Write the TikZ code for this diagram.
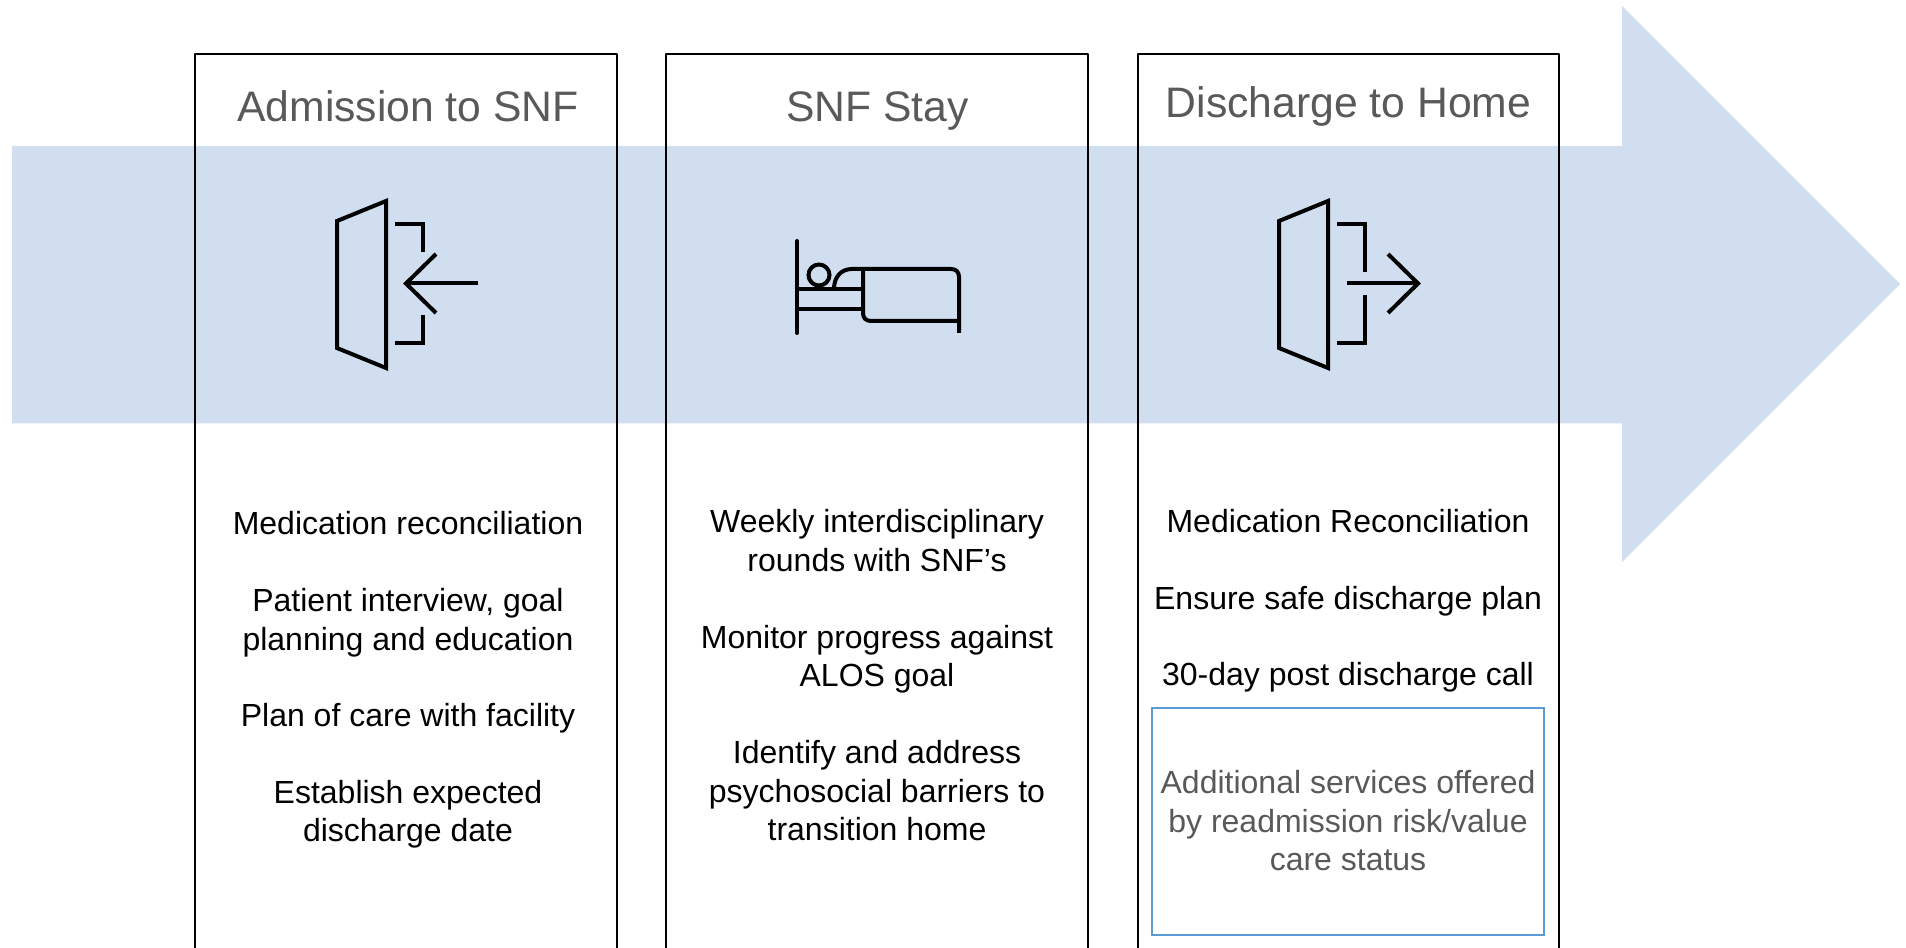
\documentclass[tikz,border=0pt]{standalone}
\usepackage{fontspec}
\setmainfont{Liberation Sans}
\definecolor{band}{HTML}{D0DEEF}
\definecolor{graytext}{HTML}{595959}
\definecolor{bluebox}{HTML}{5B9BD5}
\newcommand{\fs}{\leavevmode\rule{0pt}{18pt}}
\tikzset{
  panel/.style={draw=black,line width=1.6pt,line join=round},
  icon/.style={draw=black,line width=3pt,line join=miter},
  bodytext/.style={anchor=north,yshift=18pt,inner sep=0pt,align=center,text=black,font=\fontsize{24}{28.75}\selectfont},
  graybody/.style={bodytext,text=graytext},
  heading/.style={anchor=base,inner sep=0pt,text=graytext,font=\fontsize{32}{38}\selectfont}
}
\begin{document}
\begin{tikzpicture}[x=0.75pt,y=-0.75pt]
\useasboundingbox (0,0) rectangle (1906,948);
% band arrow
\fill[band] (12,146) -- (1622,146) -- (1622,6) -- (1900,284) -- (1622,562) -- (1622,423.5) -- (12,423.5) -- cycle;
% panels
\draw[panel] (195,950) -- (195,54) -- (617,54) -- (617,950);
\draw[panel] (666,950) -- (666,54) -- (1088,54) -- (1088,950);
\draw[panel] (1138,950) -- (1138,54) -- (1559,54) -- (1559,950);
\draw[draw=bluebox,line width=1.5pt] (1152,708) rectangle (1544,935);
% door in
\draw[icon] (337,221) -- (386,201) -- (386,368) -- (337,348) -- cycle;
\draw[icon] (395,224) -- (423,224) -- (423,252);
\draw[icon] (395,343) -- (423,343) -- (423,315);
\draw[icon] (478,283.5) -- (406,283.5);
\draw[icon] (436,254) -- (406,283.5) -- (436,313);
% bed
\draw[icon,line cap=round] (797,241) -- (797,333);
\draw[icon] (819,275) circle (10.5);
\draw[icon] (797,289) -- (863,289);
\draw[icon] (797,309) -- (863,309);
\draw[icon] (834,289) .. controls (834,277) and (841,269) .. (852,269) -- (951,269) .. controls (956,269) and (959,272) .. (959,277) -- (959,333);
\draw[icon] (863,269) -- (863,313) .. controls (863,318) and (866,321) .. (871,321) -- (959,321);
% door out
\draw[icon] (1279,221) -- (1328,201) -- (1328,368) -- (1279,348) -- cycle;
\draw[icon] (1337,224) -- (1365,224) -- (1365,272);
\draw[icon] (1337,343) -- (1365,343) -- (1365,295);
\draw[icon] (1347,283.5) -- (1419,283.5);
\draw[icon] (1388,254) -- (1418,283.5) -- (1388,313);
% headings
\node[heading] (h1) at (408,122) {Admission to SNF};
\node[heading] (h2) at (877.5,122) {SNF Stay};
\node[heading] (h3) at (1348.5,118) {Discharge to Home};
% column 1
\node[bodytext] (a1) at (408,534.5) {\fs Medication reconciliation};
\node[bodytext] (a2) at (408,611.5) {\fs Patient interview, goal\\planning and education};
\node[bodytext] (a3) at (408,726.5) {\fs Plan of care with facility};
\node[bodytext] (a4) at (408,803) {\fs Establish expected\\discharge date};
% column 2
\node[bodytext] (b1) at (877,532.5) {\fs Weekly interdisciplinary\\rounds with SNF’s};
\node[bodytext] (b2) at (877,648) {\fs Monitor progress against\\ALOS goal};
\node[bodytext] (b3) at (877,763.5) {\fs Identify and address\\psychosocial barriers to\\transition home};
% column 3
\node[bodytext] (c1) at (1348,532) {\fs Medication Reconciliation};
\node[bodytext] (c2) at (1348,609.5) {\fs Ensure safe discharge plan};
\node[bodytext] (c3) at (1348,685) {\fs 30-day post discharge call};
\node[graybody] (c4) at (1348,793.5) {\fs Additional services offered\\by readmission risk/value\\care status};
\end{tikzpicture}
\end{document}
